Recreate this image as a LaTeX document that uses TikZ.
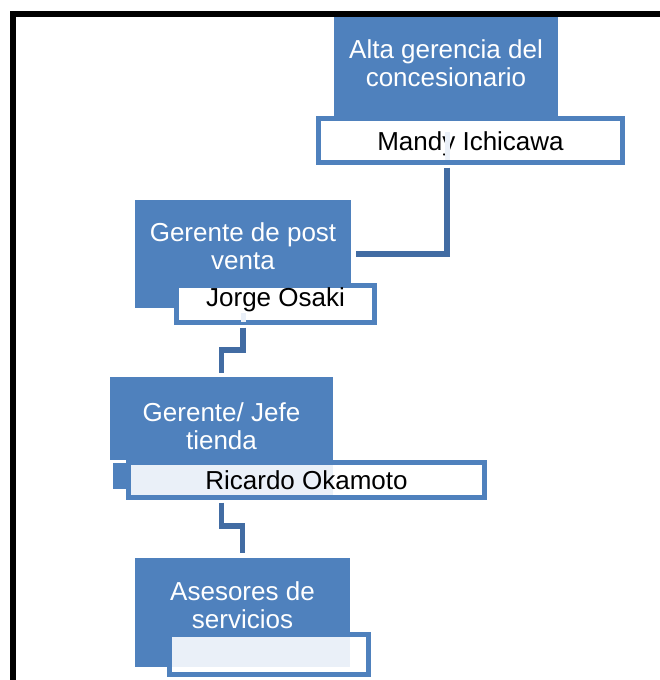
\documentclass[tikz,border=0pt]{standalone}
\usepackage{fontspec}
\setmainfont{Liberation Sans}
\usepackage{tikz}
\usetikzlibrary{calc}
\definecolor{azulcargo}{RGB}{79,129,189}
\definecolor{azullinea}{RGB}{66,108,163}
\definecolor{azulclaro}{RGB}{234,240,248}

\begin{document}
\begin{tikzpicture}[x=1pt,y=-1pt,line join=miter]
 \tikzstyle{cargo}=[rectangle,fill=azulcargo,inner sep=0pt]
 \tikzstyle{titulo}=[text=white,align=center,inner sep=0pt,font=\fontsize{26}{28}\selectfont]
 \tikzstyle{nombre}=[rectangle,draw=azulcargo,line width=5pt,fill=white,inner sep=0pt,font=\fontsize{26}{28}\selectfont,text height=19pt,text depth=0pt]
 \tikzstyle{enlace}=[draw=azullinea,line width=5.5pt,shorten <=2.5pt]
 \tikzstyle{rastro}=[draw=azulclaro,line width=5pt]
 \tikzstyle{marco}=[draw=black,line width=6pt]

   \useasboundingbox (0,0) rectangle (659,680);
   \draw[marco] (13,13.5) rectangle (720,720);

   % alta gerencia
   \node[cargo,minimum width=224pt,minimum height=100pt] (alta) at (446,67) {};
   \node[titulo] (alta-t) at ([yshift=4pt]alta.center) {Alta gerencia del\\concesionario};
   \node[nombre,minimum width=304pt,minimum height=44pt] (mandy) at (470.5,140.5) {Mandy Ichicawa};

   % post venta
   \node[cargo,minimum width=216pt,minimum height=108pt] (postventa) at (243,254) {};
   \node[titulo] (postventa-t) at ([yshift=8pt]postventa.center) {Gerente de post\\venta};
   \node[nombre,minimum width=198pt,minimum height=37pt,text depth=13.4pt] (jorge) at (275.5,304) {Jorge Osaki};

   % tienda
   \node[cargo,minimum width=223pt,minimum height=83pt] (tienda) at (221.5,418.5) {};
   \node[titulo] (tienda-t) at ([yshift=-8pt]tienda.center) {Gerente/ Jefe\\tienda};
   \fill[azulcargo] (113,463) rectangle (126,489);
   \node[nombre,minimum width=356pt,minimum height=35pt,
     path picture={\fill[azulclaro] (path picture bounding box.north west) rectangle (tienda.east |- path picture bounding box.south);}]
     (ricardo) at (306.5,480) {Ricardo Okamoto};

   % asesores
   \node[cargo,minimum width=215pt,minimum height=109pt] (asesores) at (242.5,612.5) {};
   \node[titulo] (asesores-t) at ([yshift=7.5pt]asesores.center) {Asesores de\\servicios};
   \node[nombre,minimum width=199pt,minimum height=40pt,
     path picture={\fill[azulclaro] (path picture bounding box.north west) rectangle (asesores.south east);}]
     (vacio) at (269,654.5) {};

   \coordinate (bajada) at (447,0);
   \draw[rastro] (bajada |- 0,132) -- (bajada |- 0,160);
   \draw[rastro] (postventa.center |- 0,313) -- (postventa.center |- 0,322);

   \draw[enlace,shorten >=5pt] (bajada |- mandy.south) |- (postventa.east);
   \draw[enlace,shorten >=4pt] (postventa.center |- jorge.south) -- (postventa.center |- 0,350) -| (tienda.north);
   \draw[enlace,shorten >=5pt] (tienda.center |- ricardo.south) -- (tienda.center |- 0,526) -| (asesores.north);

\end{tikzpicture}
\end{document}
